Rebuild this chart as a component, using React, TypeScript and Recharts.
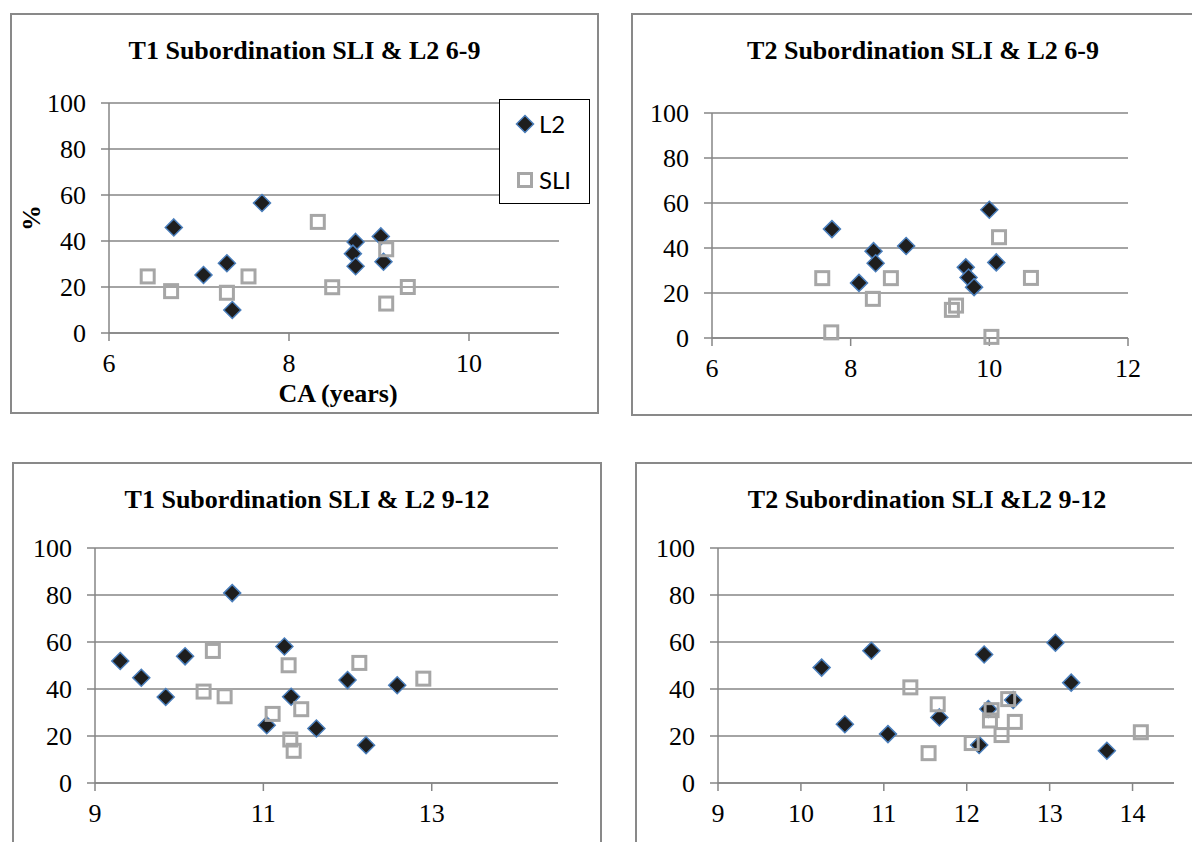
import React from 'react'
import { ScatterChart, Scatter, XAxis, YAxis, CartesianGrid, Legend } from 'recharts'

const pctTicks = [0, 20, 40, 60, 80, 100]

// T1 6-9 (CA years, % subordination)
const t1YoungL2 = [[6.72, 45.9], [7.7, 56.5], [7.05, 25.2], [7.31, 30.3], [7.37, 10.0], [8.74, 39.6], [8.71, 34.5], [8.74, 29.0], [9.02, 42.0], [9.05, 31.0]]
const t1YoungSLI = [[6.43, 24.6], [6.69, 18.2], [7.31, 17.5], [7.55, 24.6], [8.32, 48.3], [8.48, 19.9], [9.08, 12.8], [9.08, 36.4], [9.32, 20.0]]

// T2 6-9
const t2YoungL2 = [[7.73, 48.4], [8.12, 24.5], [8.33, 38.6], [8.36, 33.2], [8.8, 40.9], [9.66, 31.4], [9.7, 26.9], [9.78, 22.6], [10.0, 57.0], [10.1, 33.6]]
const t2YoungSLI = [[7.59, 26.6], [7.72, 2.5], [8.32, 17.4], [8.58, 26.6], [9.46, 12.5], [9.52, 14.4], [10.03, 0.5], [10.14, 44.8], [10.6, 26.7]]

// T1 9-12
const t1OlderL2 = [[9.3, 51.9], [9.55, 44.8], [9.84, 36.6], [10.07, 53.9], [10.63, 80.8], [11.04, 24.6], [11.25, 58.1], [11.33, 36.7], [11.63, 23.2], [12.0, 43.8], [12.22, 16.1], [12.59, 41.6]]
const t1OlderSLI = [[10.4, 56.2], [10.29, 38.9], [10.54, 36.9], [11.11, 29.4], [11.3, 50.1], [11.32, 18.5], [11.36, 13.7], [11.45, 31.4], [12.14, 51.1], [12.9, 44.4]]

// T2 9-12
const t2OlderL2 = [[10.25, 49.1], [10.53, 25.0], [10.85, 56.3], [11.05, 20.8], [11.67, 27.9], [12.21, 54.7], [12.15, 16.2], [12.26, 31.5], [12.56, 35.3], [13.07, 59.7], [13.26, 42.7], [13.69, 13.7]]
const t2OlderSLI = [[11.32, 40.7], [11.65, 33.5], [11.54, 12.7], [12.06, 17.0], [12.3, 31.0], [12.28, 26.6], [12.42, 20.4], [12.5, 35.7], [12.58, 26.0], [14.1, 21.6]]

const youngTicksT1 = [6, 8, 10]
const youngTicksT2 = [6, 8, 10, 12]
const olderTicksT1 = [9, 11, 13]
const olderTicksT2 = [9, 10, 11, 12, 13, 14]

const toPoints = (pairs: number[][]) => pairs.map(([x, y]) => ({ x, y }))

const GRID = '#868686'
const SERIF = '"Liberation Serif", "Times New Roman", serif'
const BORDER = 2
const Y_W = 60
const X_H = 70

function Diamond({ cx, cy }: any) {
  const r = 8.5
  return (
    <polygon
      points={`${cx},${cy - r} ${cx + r},${cy} ${cx},${cy + r} ${cx - r},${cy}`}
      fill="#1e1e1e"
      stroke="#4a7ebb"
      strokeWidth={1.5}
    />
  )
}

function Square({ cx, cy }: any) {
  return <rect x={cx - 6.5} y={cy - 6.5} width={13} height={13} fill="none" stroke="#a6a6a6" strokeWidth={3} />
}

function XTick({ x, y, payload }: any) {
  return (
    <text x={x} y={y} dy="0.71em" textAnchor="middle" fontFamily={SERIF} fontSize={26} fill="#000">
      {payload.value}
    </text>
  )
}

function YTick({ x, y, payload }: any) {
  return (
    <text x={x} y={y} dy="0.35em" textAnchor="end" fontFamily={SERIF} fontSize={26} fill="#000">
      {payload.value}
    </text>
  )
}

const renderLegend = (props: any) => {
  const names = props.payload && props.payload.length ? props.payload.map((p: any) => p.value) : ['L2', 'SLI']
  return (
    <div
      style={{
        width: 91,
        height: 105,
        boxSizing: 'border-box',
        border: '1.5px solid #000',
        background: '#fff',
        position: 'relative',
        fontFamily: 'Lato, "Open Sans", sans-serif',
        fontSize: 24,
        color: '#000',
      }}
    >
      {names.map((name: string, i: number) => (
        <div key={name} style={{ position: 'absolute', left: 14, top: 13 + i * 56, display: 'flex', alignItems: 'center', height: 22 }}>
          <svg width={22} height={22}>
            {name === 'L2' ? <Diamond cx={11} cy={11} /> : <Square cx={11} cy={11} />}
          </svg>
          <span style={{ marginLeft: 3, lineHeight: '22px' }}>{name}</span>
        </div>
      ))}
    </div>
  )
}

interface PanelProps {
  title: string
  titleY: number
  box: number[]
  plot: number[]
  xDomain: number[]
  xTicks: number[]
  l2: number[][]
  sli: number[][]
  xLabel?: string
  yLabel?: string
  legendAt?: number[]
}

function Panel({ title, titleY, box, plot, xDomain, xTicks, l2, sli, xLabel, yLabel, legendAt }: PanelProps) {
  const innerLeft = box[0] + BORDER
  const innerTop = box[1] + BORDER
  const w = box[2] - 2 * BORDER
  const h = box[3] - 2 * BORDER
  const margin = {
    left: plot[0] - innerLeft - Y_W,
    top: plot[1] - innerTop,
    right: innerLeft + w - (plot[0] + plot[2]),
    bottom: innerTop + h - (plot[1] + plot[3]) - X_H,
  }

  return (
    <div
      style={{
        position: 'absolute',
        left: box[0],
        top: box[1],
        width: box[2],
        height: box[3],
        boxSizing: 'border-box',
        border: `${BORDER}px solid #898989`,
        background: '#fff',
        fontFamily: SERIF,
      }}
    >
      <ScatterChart width={w} height={h} margin={margin}>
        <CartesianGrid vertical={false} stroke={GRID} strokeWidth={1.5} />
        <XAxis
          type="number"
          dataKey="x"
          domain={xDomain}
          ticks={xTicks}
          interval={0}
          height={X_H}
          tickSize={8}
          tickMargin={13}
          stroke={GRID}
          axisLine={{ stroke: GRID, strokeWidth: 1.5 }}
          tickLine={{ stroke: GRID, strokeWidth: 1.5 }}
          tick={<XTick />}
          label={
            xLabel
              ? (p: any) => (
                  <text
                    x={p.viewBox.x + p.viewBox.width / 2 + 4}
                    y={p.viewBox.y + 69}
                    textAnchor="middle"
                    fontFamily={SERIF}
                    fontWeight="bold"
                    fontSize={26}
                    fill="#000"
                  >
                    {xLabel}
                  </text>
                )
              : undefined
          }
        />
        <YAxis
          type="number"
          dataKey="y"
          domain={[0, 100]}
          ticks={pctTicks}
          interval={0}
          width={Y_W}
          tickSize={8}
          tickMargin={15}
          stroke={GRID}
          axisLine={{ stroke: GRID, strokeWidth: 1.5 }}
          tickLine={{ stroke: GRID, strokeWidth: 1.5 }}
          tick={<YTick />}
          label={
            yLabel
              ? (p: any) => {
                  const cx = p.viewBox.x - 18
                  const cy = p.viewBox.y + p.viewBox.height / 2
                  return (
                    <text
                      x={cx}
                      y={cy}
                      textAnchor="middle"
                      dominantBaseline="central"
                      transform={`rotate(-90 ${cx} ${cy})`}
                      fontFamily={SERIF}
                      fontWeight="bold"
                      fontSize={26}
                      fill="#000"
                    >
                      {yLabel}
                    </text>
                  )
                }
              : undefined
          }
        />
        {legendAt && (
          <Legend
            layout="vertical"
            align="center"
            verticalAlign="middle"
            content={renderLegend}
            wrapperStyle={{ left: legendAt[0] - innerLeft, top: legendAt[1] - innerTop, width: 91, height: 105 }}
          />
        )}
        <Scatter name="L2" data={toPoints(l2)} shape={(p: any) => <Diamond {...p} />} isAnimationActive={false} />
        <Scatter name="SLI" data={toPoints(sli)} shape={(p: any) => <Square {...p} />} isAnimationActive={false} />
      </ScatterChart>
      <div
        style={{
          position: 'absolute',
          left: 0,
          width: box[2] - 2 * BORDER,
          top: titleY - innerTop - 15,
          lineHeight: '30px',
          textAlign: 'center',
          fontFamily: SERIF,
          fontWeight: 'bold',
          fontSize: 26,
          color: '#000',
          whiteSpace: 'nowrap',
        }}
      >
        {title}
      </div>
    </div>
  )
}

export default function App() {
  return (
    <div style={{ position: 'absolute', left: 0, top: 0, width: 1192, height: 842, overflow: 'hidden', background: '#fff' }}>
      <Panel
        title="T1 Subordination SLI & L2 6-9"
        titleY={51}
        box={[10, 13, 589, 401]}
        plot={[109, 103, 450, 230]}
        xDomain={[6, 11]}
        xTicks={youngTicksT1}
        l2={t1YoungL2}
        sli={t1YoungSLI}
        xLabel="CA (years)"
        yLabel="%"
        legendAt={[499, 99]}
      />
      <Panel
        title="T2 Subordination SLI & L2 6-9"
        titleY={51}
        box={[631, 13, 584, 403]}
        plot={[712, 113, 416, 225]}
        xDomain={[6, 12]}
        xTicks={youngTicksT2}
        l2={t2YoungL2}
        sli={t2YoungSLI}
      />
      <Panel
        title="T1 Subordination SLI & L2 9-12"
        titleY={500}
        box={[12, 462, 590, 400]}
        plot={[95, 548, 463, 235]}
        xDomain={[9, 14.5]}
        xTicks={olderTicksT1}
        l2={t1OlderL2}
        sli={t1OlderSLI}
      />
      <Panel
        title="T2 Subordination SLI &L2 9-12"
        titleY={500}
        box={[635, 462, 584, 400]}
        plot={[718, 548, 456, 235]}
        xDomain={[9, 14.5]}
        xTicks={olderTicksT2}
        l2={t2OlderL2}
        sli={t2OlderSLI}
      />
    </div>
  )
}
